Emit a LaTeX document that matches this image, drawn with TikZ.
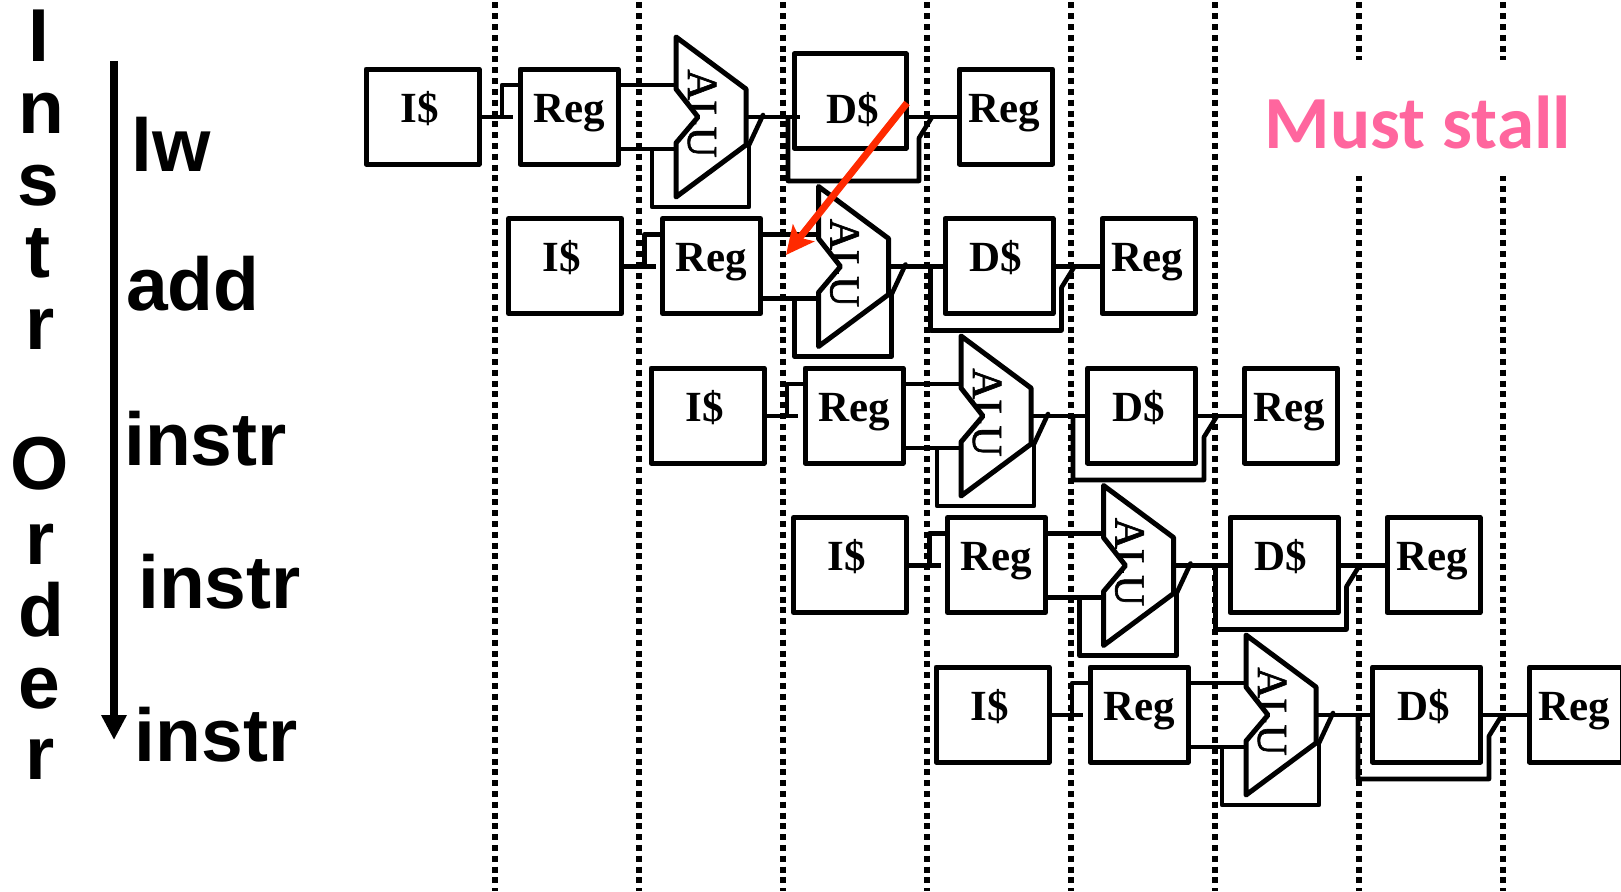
\documentclass[tikz,border=0pt]{standalone}
\usepackage{fontspec}
\setmainfont{Liberation Serif}
\newfontfamily\labfont{Liberation Sans}
\newfontfamily\stallfont{Carlito}
\newfontfamily\alufont[FakeBold=1.5]{Liberation Serif}
\usetikzlibrary{arrows.meta}
\definecolor{stallpink}{HTML}{FF669E}
\definecolor{hazard}{HTML}{FF2A00}
\tikzset{
  x=1pt,y=-1pt,
  wire/.style={line width=4.6pt,line join=round,draw=black},
  stage/.style={draw=black,line width=5pt,line join=round,rectangle,outer sep=0pt,inner sep=0pt,
    font=\fontsize{43}{46}\selectfont\bfseries,text height=32pt,text depth=21pt},
  aluname/.style={anchor=base,rotate=-90,inner sep=0pt,font=\alufont\fontsize{43}{46}\selectfont},
  alubody/.style={draw=black,line width=5pt,line join=round},
  timeline/.style={line width=5.6pt,dash pattern=on 6pt off 4.8pt,draw=black},
  side/.style={anchor=base,inner sep=0pt,font=\labfont\fontsize{75}{80}\selectfont\bfseries},
  rowlabel/.style={anchor=base west,inner sep=0pt,font=\labfont\fontsize{75}{80}\selectfont\bfseries},
}
\begin{document}
\begin{tikzpicture}
\clip (0,0) rectangle (1621,891);
\fill[white] (0,0) rectangle (1621,891);
% cycle boundaries
\foreach \k in {0,...,7}{
  \coordinate (T\k) at ({495+144*\k},2.5);
  \coordinate (B\k) at ({495+144*\k},891);
  \draw[timeline] (T\k) -- (B\k);
}
\node[fill=white,inner sep=0pt,minimum width=310pt,minimum height=116pt,text=stallpink,
  text height=88pt,text depth=28pt,
  font=\stallfont\fontsize{75}{78}\selectfont\bfseries] (stall) at (1418,118) {Must stall};
% left labels
\foreach \n/\c/\x/\b in {a/I/39/62,b/n/41/133,c/s/38.5/205,d/t/38/277,e/r/40.5/349,f/O/39.5/489,g/r/40.5/564,h/d/41/636,i/e/39/708,j/r/40.5/779}{
  \node[side] (side\n) at (\x,\b) {\c};
}
\node[rowlabel] (lw) at (131,171) {lw};
\node[rowlabel] (add) at (126,310) {add};
\node[rowlabel] (ins3) at (124,465) {instr};
\node[rowlabel] (ins4) at (138,608) {instr};
\node[rowlabel] (ins5) at (134.5,761) {instr};
\coordinate (ordTop) at (114,61);
\coordinate (ordEnd) at (114,740);
\draw[line width=8pt,-{Triangle[length=25pt,width=24pt]}] (ordTop) -- (ordEnd);
% pipeline rows
\foreach \r/\cx/\cy/\dw/\dh/\th/\ts in {1/850/101/112/94/65/-6,2/856.5/116.5/108/95/32/6,3/856.5/116.5/108/95/32/6,4/856.5/116.5/108/95/32/6,5/856.5/116.5/108/95/32/6}{
  \pgfmathsetmacro\sx{(\r-1)*142.5}
  \pgfmathsetmacro\sy{(\r-1)*149.5}
  \begin{scope}[shift={(\sx,\sy)}]
    \node[stage,minimum width=113pt,minimum height=95pt] (I\r) at (422.5,116.5) {I\$\hspace*{6pt}};
    \node[stage,minimum width=98pt,minimum height=95pt] (R\r) at (569,116.5) {Reg};
    \node[stage,minimum width=\dw pt,minimum height=\dh pt,text height=\th pt] (D\r) at (\cx,\cy) {D\$\hspace*{\ts pt}};
    \node[stage,minimum width=93pt,minimum height=95pt] (W\r) at (1006,116.5) {Reg\hspace*{3pt}};
    % ALU
    \node[aluname] (Atxt\r) at (688,113.5) {ALU};
    \fill[white] (676,89) -- (698,117) -- (676,143) -- cycle;
    \draw[alubody] (676,37) coordinate (Atl\r) -- (746,89) -- (746,145) coordinate (Abr\r) -- (676,197)
      -- (676,143) coordinate (Ain2\r) -- (698,117) -- (676,89) coordinate (Ain1\r) -- cycle;
    % fetch to decode
    \coordinate (If\r) at (513,117);
    \coordinate (Is\r) at (502,117);
    \coordinate (Iu\r) at (502,85);
    \coordinate (Ir\r) at (R\r.west |- Iu\r);
    \draw[wire] (I\r.east |- If\r) -- (If\r);
    \draw[wire] (Is\r) -- (Iu\r) -- (Ir\r);
    % decode to ALU
    \coordinate (Rt\r) at (R\r.east |- Iu\r);
    \coordinate (At\r) at (676,85);
    \draw[wire] (Rt\r) -- (At\r);
    \coordinate (Rb\r) at (R\r.east |- 0,149);
    \coordinate (Ab\r) at (676,149);
    \draw[wire] (Rb\r) -- (Ab\r);
    % ALU loop
    \coordinate (La\r) at (652,149);
    \coordinate (Lb\r) at (652,207);
    \coordinate (Lc\r) at (749,207);
    \coordinate (Ld\r) at (749,145);
    \draw[wire] (La\r) -- (Lb\r) -- (Lc\r) -- (Ld\r);
    % ALU to memory
    \coordinate (Ao\r) at (748,117);
    \coordinate (Di\r) at (800,117);
    \draw[wire] (Ao\r) -- (Di\r);
    \coordinate (Sb\r) at (763,115);
    \draw[wire,line cap=round] (Ld\r) -- (Sb\r);
    % memory to writeback
    \coordinate (Dm\r) at (D\r.east |- Di\r);
    \coordinate (Wm\r) at (W\r.west |- Di\r);
    \draw[wire] (Dm\r) -- (Wm\r);
    % memory loop
    \coordinate (Ma\r) at (788,117);
    \coordinate (Mb\r) at (788,181);
    \coordinate (Mc\r) at (919,181);
    \coordinate (Md\r) at (919,138);
    \coordinate (Me\r) at (932,117);
    \draw[wire] (Ma\r) -- (Mb\r) -- (Mc\r) -- (Md\r) -- (Me\r);
  \end{scope}
}
% data hazard arrow
\coordinate (hzStart) at (907,103);
\coordinate (hzEnd) at (786,255);
\draw[hazard,line width=7pt,-{Stealth[length=28pt,width=27pt,inset=6pt]}] (hzStart) -- (hzEnd);
\end{tikzpicture}
\end{document}
